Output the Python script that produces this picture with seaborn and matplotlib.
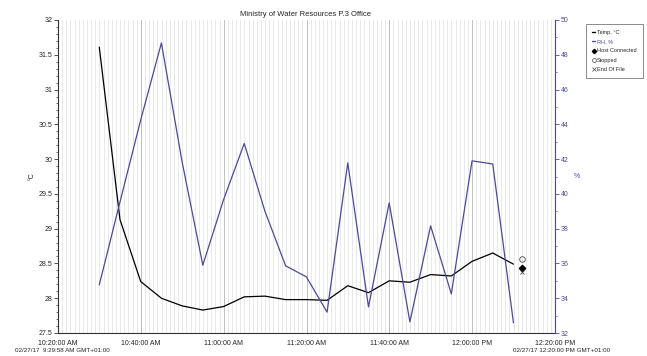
import matplotlib
matplotlib.use("Agg")
import matplotlib.pyplot as plt
import matplotlib.dates as mdates
from matplotlib.ticker import MultipleLocator
from matplotlib.lines import Line2D
import seaborn as sns
import pandas as pd

# ---- data ----
times = ["10:29:58", "10:34:58", "10:39:58", "10:44:58", "10:49:58", "10:54:58",
         "10:59:58", "11:04:58", "11:09:58", "11:14:58", "11:19:58", "11:24:58",
         "11:29:58", "11:34:58", "11:39:58", "11:44:58", "11:49:58", "11:54:58",
         "11:59:58", "12:04:58", "12:09:58"]
temp_c = [31.61, 29.13, 28.24, 28.00, 27.89, 27.83, 27.88, 28.02, 28.03, 27.98, 27.98,
          27.97, 28.18, 28.08, 28.25, 28.23, 28.34, 28.32, 28.53, 28.65, 28.49]
rh_pct = [34.77, 39.54, 44.25, 48.68, 41.84, 35.90, 39.66, 42.90, 39.00, 35.86, 35.23,
          33.20, 41.78, 33.50, 39.48, 32.64, 38.16, 34.25, 41.90, 41.72, 32.59]
event_time = "12:12:00"
event_names = ["Host Connected", "Stopped", "End Of File"]
event_values = [28.44, 28.57, 28.37]
x_tick_labels = ["10:20:00 AM", "10:40:00 AM", "11:00:00 AM", "11:20:00 AM",
                 "11:40:00 AM", "12:00:00 PM", "12:20:00 PM"]
title = "Ministry of Water Resources P.3 Office"
start_label = "02/27/17  9:29:58 AM GMT+01:00"
end_label = "02/27/17 12:20:00 PM GMT+01:00"

day = "2017-02-27 "
df = pd.DataFrame({
    "time": pd.to_datetime([day + t for t in times]),
    "temp": temp_c,
    "rh": rh_pct,
})
ev_t = pd.to_datetime(day + event_time)

sns.set_style("white")
plt.rcParams["font.family"] = ["Liberation Sans Narrow", "Liberation Sans", "DejaVu Sans"]
plt.rcParams["font.size"] = 5

BLUE = "#4a4a9c"

fig = plt.figure(figsize=(6.47, 3.56), dpi=100)
ax = fig.add_axes([58 / 647, 1 - 333 / 356, (555 - 58) / 647, (333 - 20) / 356])
ax2 = ax.twinx()

sns.lineplot(data=df, x="time", y="temp", ax=ax, color="black", linewidth=0.9, zorder=3)
sns.lineplot(data=df, x="time", y="rh", ax=ax2, color=BLUE, linewidth=0.9, zorder=3)

# event markers
ax.plot([ev_t], [event_values[0]], marker="D", color="black", markersize=3.2, linestyle="none", zorder=4)
ax.plot([ev_t], [event_values[1]], marker="o", mfc="none", mec="#444444", markersize=4, mew=0.6, linestyle="none", zorder=4)
ax.plot([ev_t], [event_values[2]], marker="x", color="#444444", markersize=3.5, mew=0.6, linestyle="none", zorder=4)

x0 = pd.to_datetime(day + "10:20:00")
x1 = pd.to_datetime(day + "12:20:00")
ax.set_xlim(x0, x1)
ax.set_ylim(27.5, 32)
ax2.set_ylim(32, 50)

ax.xaxis.set_minor_locator(mdates.MinuteLocator(interval=1))
ax.set_xticks(pd.date_range(x0, x1, freq="20min"))
ax.set_xticklabels(x_tick_labels)

ax.yaxis.set_minor_locator(MultipleLocator(0.1))
ax.set_yticks([27.5, 28, 28.5, 29, 29.5, 30, 30.5, 31, 31.5, 32])
ax.set_yticklabels(["27.5", "28", "28.5", "29", "29.5", "30", "30.5", "31", "31.5", "32"])
ax2.yaxis.set_major_locator(MultipleLocator(2))
ax2.yaxis.set_minor_locator(MultipleLocator(1))

ax.grid(which="minor", axis="x", color="#e0e0e0", linewidth=0.5)
ax.grid(which="major", axis="x", color="#b4b4b4", linewidth=0.6)
ax.grid(False, axis="y")
ax2.grid(False)
ax.set_axisbelow(True)

for a in (ax, ax2):
    for s in a.spines.values():
        s.set_visible(False)
ax.spines["left"].set_visible(True)
ax.spines["bottom"].set_visible(True)
ax.spines["left"].set_color("#333333")
ax.spines["bottom"].set_color("#333333")
ax.spines["left"].set_linewidth(0.8)
ax.spines["bottom"].set_linewidth(0.8)
ax2.spines["right"].set_visible(True)
ax2.spines["right"].set_color(BLUE)
ax2.spines["right"].set_linewidth(0.8)

ax.tick_params(axis="x", which="major", length=4, width=0.6, color="#333333", labelsize=5, pad=1)
ax.tick_params(axis="x", which="minor", length=2, width=0.5, color="#333333")
ax.tick_params(axis="y", which="major", length=3, width=0.6, color="#333333", labelsize=5, pad=1)
ax.tick_params(axis="y", which="minor", length=1.5, width=0.5, color="#333333")
ax2.tick_params(axis="y", which="major", length=3, width=0.6, color=BLUE, labelcolor=BLUE, labelsize=5, pad=1)
ax2.tick_params(axis="y", which="minor", length=1.5, width=0.5, color=BLUE)

ax.set_xlabel("")
ax.set_ylabel("°C", fontsize=5)
ax.yaxis.set_label_coords(-0.045, 0.5)
ax2.set_ylabel("%", fontsize=5, rotation=0, va="center", color=BLUE)
ax2.yaxis.set_label_coords(1.045, 0.5)

fig.text(305 / 647, 1 - 14 / 356, title, ha="center", va="center", fontsize=5.5)
fig.text(15 / 647, 1 - 350 / 356, start_label, ha="left", va="center", fontsize=4.5)
fig.text(513 / 647, 1 - 350 / 356, end_label, ha="left", va="center", fontsize=4.5)

handles = [
    Line2D([], [], color="black", linewidth=1.0, label="Temp, °C"),
    Line2D([], [], color=BLUE, linewidth=1.0, label="RH, %"),
    Line2D([], [], color="black", marker="D", markersize=2.2, linestyle="none", label=event_names[0]),
    Line2D([], [], color="#444444", marker="o", mfc="none", markersize=2.8, mew=0.5, linestyle="none", label=event_names[1]),
    Line2D([], [], color="#444444", marker="x", markersize=2.8, mew=0.5, linestyle="none", label=event_names[2]),
]
leg = fig.legend(handles=handles, loc="upper left", bbox_to_anchor=(586 / 647, 1 - 24 / 356),
                 frameon=True, fontsize=4, handlelength=0.6, handletextpad=0.25,
                 borderpad=1.1, labelspacing=0.75, fancybox=False, borderaxespad=0)
leg.get_frame().set_edgecolor("#555555")
leg.get_frame().set_linewidth(0.6)
leg.texts[1].set_color(BLUE)

fig.savefig("out.png", dpi=100)
